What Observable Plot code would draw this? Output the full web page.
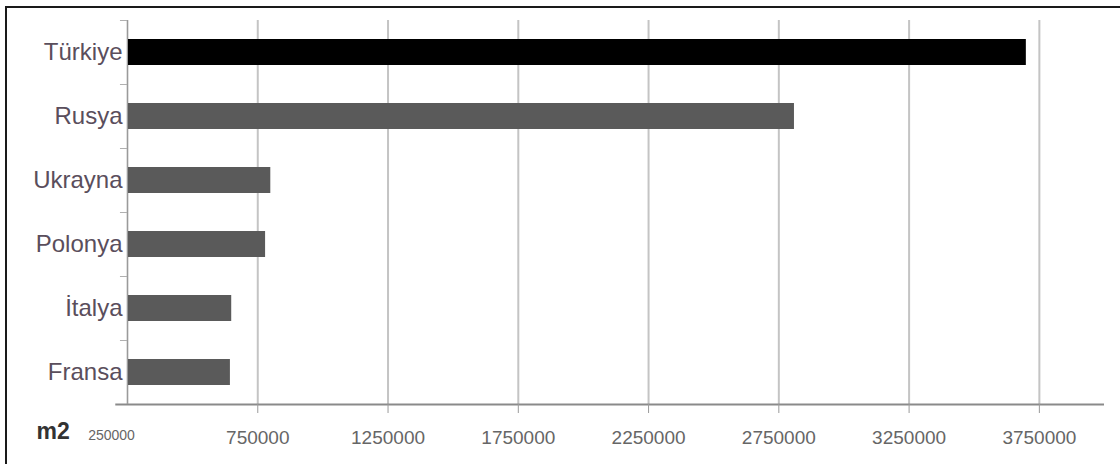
<!DOCTYPE html>
<html>
<head>
<meta charset="utf-8">
<script src="https://cdn.jsdelivr.net/npm/d3@7"></script>
<script src="https://cdn.jsdelivr.net/npm/@observablehq/plot@0.6"></script>
<style>
  html, body { margin: 0; padding: 0; background: #fff; }
  #wrap { position: relative; width: 1120px; height: 464px; overflow: hidden; }
  #frame { position: absolute; left: 5px; top: 6px; width: 1200px; height: 600px;
           border-top: 2px solid #1a1a1a; border-left: 2px solid #1a1a1a; pointer-events: none; }
</style>
</head>
<body>
<div id="wrap"><div id="frame"></div></div>
<script>
const countries = ["Türkiye", "Rusya", "Ukrayna", "Polonya", "İtalya", "Fransa"];
const values = [3700000, 2810000, 800000, 780000, 650000, 645000];
const barColors = ["#000000", "#5a5a5a", "#5a5a5a", "#5a5a5a", "#5a5a5a", "#5a5a5a"];
const tickValues = [250000, 750000, 1250000, 1750000, 2250000, 2750000, 3250000, 3750000];
const unitLabel = "m2";
const axisMin = 250000;
const axisMax = 4000000;

const data = countries.map((c, i) => ({country: c, value: values[i], color: barColors[i]}));
const fmt = d => String(d);

const chart = Plot.plot({
  width: 1120,
  height: 464,
  marginLeft: 127,
  marginRight: 16,
  marginTop: 20,
  marginBottom: 60,
  style: {fontFamily: "'Liberation Sans', Arial, sans-serif", background: "transparent"},
  x: {domain: [axisMin, axisMax], ticks: tickValues},
  y: {domain: countries, paddingInner: 0.6, paddingOuter: 0.3},
  marks: [
    Plot.ruleX(tickValues, {stroke: "#c4c4c4", strokeWidth: 2}),
    Plot.ruleY(countries, {x1: axisMin - 27000, x2: axisMin, dy: -32, stroke: "#b0b0b0", strokeWidth: 1}),
    Plot.ruleY(countries.slice(-1), {x1: axisMin - 45000, x2: axisMax, dy: 32, stroke: "#8a8a8a", strokeWidth: 2}),
    Plot.barX(data, {y: "country", x1: axisMin, x2: "value", fill: "color"}),
    Plot.axisY({tickSize: 0, tickPadding: 5, fontSize: 24, fill: "#5a4e5c", label: null}),
    Plot.axisX(tickValues.slice(1), {tickSize: 9, tickPadding: 17, fontSize: 19, fill: "#666", stroke: "#9a9a9a", tickFormat: fmt, label: null}),
    Plot.tickX(tickValues.slice(0, 1), {frameAnchor: "bottom", stroke: "#9a9a9a"}),
    Plot.text(tickValues.slice(0, 1), {x: d => d, text: fmt, frameAnchor: "bottom", dx: -16, dy: 35, fontSize: 14, fill: "#666"}),
    Plot.text([unitLabel], {frameAnchor: "bottom-left", dx: -91, dy: 34, textAnchor: "start", fontSize: 23, fontWeight: "bold", fill: "#333"})
  ]
});
document.getElementById("wrap").insertBefore(chart, document.getElementById("frame"));
</script>
</body>
</html>
